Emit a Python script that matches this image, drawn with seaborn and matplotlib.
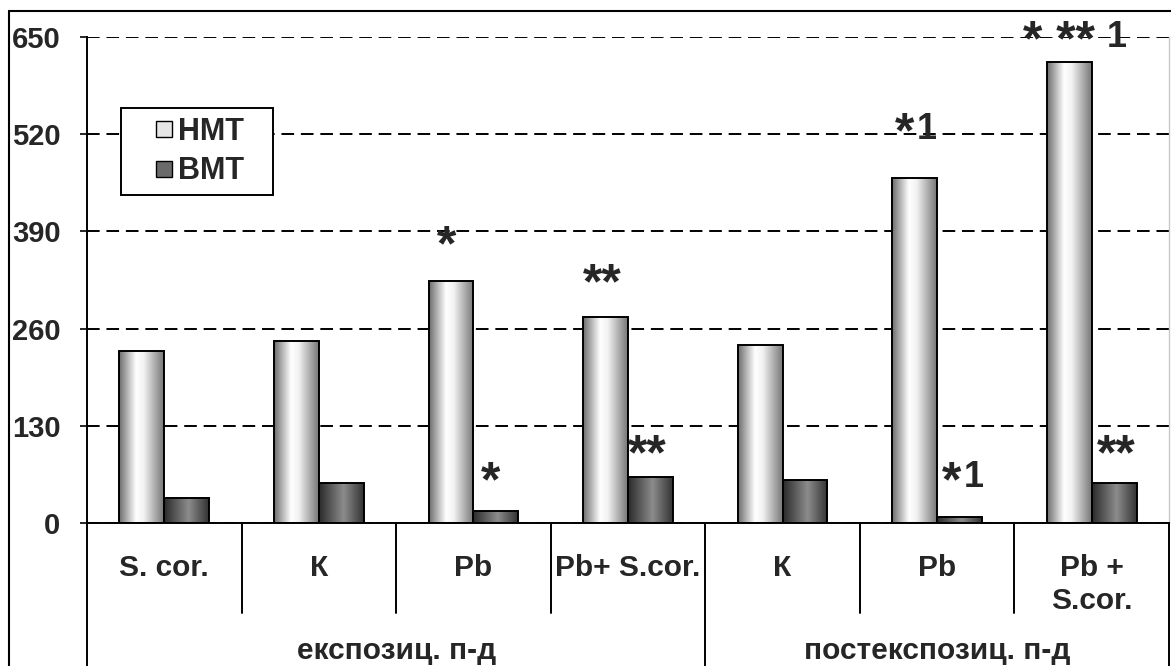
import numpy as np
import pandas as pd
import matplotlib
matplotlib.use("Agg")
import matplotlib.pyplot as plt
import seaborn as sns
from matplotlib.colors import LinearSegmentedColormap
from matplotlib.lines import Line2D

# --- data ---
cat_keys = ["e_scor", "e_k", "e_pb", "e_pbs", "p_k", "p_pb", "p_pbs"]
tick_labels = ["S. cor.", "К", "Pb", "Pb+ S.cor.", "К", "Pb", "Pb +\nS.cor."]
periods = ["експозиц. п-д", "постекспозиц. п-д"]
period_first = [0, 4]
period_last = [3, 6]
series = ["НМТ", "ВМТ"]
nmt = [230, 243, 323, 275, 238, 462, 617]
vmt = [34, 54, 16, 61, 57, 8, 53]
marks_nmt = ["", "", "*", "**", "", "*1", "* ** 1"]
marks_vmt = ["", "", "*", "**", "", "*1", "**"]
yticks = [0, 130, 260, 390, 520, 650]

sns.set_style("white")
plt.rcParams["font.family"] = ["Liberation Sans", "DejaVu Sans"]
plt.rcParams["font.weight"] = "bold"

W, H = 1171, 666
fig = plt.figure(figsize=(W / 100, H / 100), dpi=100)
ax = fig.add_axes([87 / W, (H - 523) / H, (1169 - 87) / W, 486 / H])

df = pd.DataFrame({
    "cat": cat_keys * 2,
    "series": [series[0]] * len(cat_keys) + [series[1]] * len(cat_keys),
    "value": nmt + vmt,
})

sns.barplot(data=df, x="cat", y="value", hue="series", order=cat_keys,
            hue_order=series, palette=["#e6e6e6", "#6a6a6a"], width=0.58,
            errorbar=None, edgecolor="black", linewidth=1.4, legend=False,
            ax=ax, zorder=3)

# cylinder-like shading inside every bar
cmaps = [
    LinearSegmentedColormap.from_list("nmt", [(0, "#6c6c6c"), (0.38, "#ffffff"),
                                              (0.55, "#f2f2f2"), (1, "#767676")]),
    LinearSegmentedColormap.from_list("vmt", [(0, "#2a2a2a"), (0.55, "#8c8c8c"),
                                              (1, "#323232")]),
]
grad = np.linspace(0, 1, 256).reshape(1, -1)
n = len(cat_keys)
for i, p in enumerate(ax.patches[:2 * n]):
    x0, y0 = p.get_x(), p.get_y()
    w, h = p.get_width(), p.get_height()
    p.set_facecolor("none")
    im = ax.imshow(grad, cmap=cmaps[i // n], extent=[x0, x0 + w, y0, y0 + h],
                   aspect="auto", interpolation="bilinear", zorder=2.5)
    im.set_clip_path(p)

ax.set_xlim(-0.5, n - 0.5)
ax.set_ylim(0, 650)
ax.set_yticks(yticks)
ax.set_xticks(range(n))
ax.set_xticklabels(tick_labels, fontsize=21.5, fontweight="bold", linespacing=1.25)
ax.set_xlabel("")
ax.set_ylabel("")
ax.tick_params(axis="x", length=0, pad=22)
ax.tick_params(axis="y", direction="out", length=5, width=1.4, pad=14,
               labelsize=21, left=True)
for lab in ax.get_yticklabels():
    lab.set_fontweight("bold")

ax.yaxis.grid(True, color="black", linestyle=(0, (6.5, 3.5)), linewidth=1.4)
ax.set_axisbelow(True)
ax.spines["top"].set_visible(False)
ax.spines["right"].set_color("#c8c8c8")
ax.spines["right"].set_linewidth(1.0)
for s in ["left", "bottom"]:
    ax.spines[s].set_color("black")
    ax.spines[s].set_linewidth(1.4)

# significance marks: big asterisks, digits, tops aligned
star_size, digit_size = 36, 26
mark_top_nmt = [0, 0, 399, 349, 0, 550, 673]
mark_top_vmt = [0, 0, 84, 120, 0, 84, 120]
mark_dx_nmt = [0, 0, -4, -3, 0, 2, 28]   # px from bar centre
mark_dx_vmt = [0, 0, -5, -3, 0, 4, 2]
off = 0.29 / 2


def draw_mark(xc, ytop, text, dx_px):
    k = text.rfind("*")
    stars, rest = text[:k + 1], text[k + 1:]
    dx = dx_px * 0.72
    kw = dict(xycoords="data", textcoords="offset points", va="top",
              fontweight="bold", annotation_clip=False)
    if rest:
        ax.annotate(stars, (xc, ytop), xytext=(dx - 1.5, 0), ha="right",
                    fontsize=star_size, **kw)
        ax.annotate(rest, (xc, ytop), xytext=(dx, 0), ha="left",
                    fontsize=digit_size, **kw)
    else:
        ax.annotate(stars, (xc, ytop), xytext=(dx, 0), ha="center",
                    fontsize=star_size, **kw)


for i in range(n):
    if marks_nmt[i]:
        draw_mark(i - off, mark_top_nmt[i], marks_nmt[i], mark_dx_nmt[i])
    if marks_vmt[i]:
        draw_mark(i + off, mark_top_vmt[i], marks_vmt[i], mark_dx_vmt[i])

# two-level category table under the axis
tr = ax.get_xaxis_transform()
short_y = -(613 - 523) / 486
long_y = -0.4
for b in np.arange(-0.5, n, 1.0):
    is_long = b in (-0.5, n - 0.5) or any(b == period_last[k] + 0.5 for k in range(len(periods)))
    ax.plot([b, b], [0, long_y if is_long else short_y], color="black",
            lw=1.4, transform=tr, clip_on=False, zorder=4)
for k, name in enumerate(periods):
    cx = (period_first[k] + period_last[k]) / 2
    ax.text(cx, -(659 - 523) / 486, name, transform=tr, ha="center",
            va="baseline", fontsize=21.5, fontweight="bold")

# legend
handles = [
    Line2D([], [], marker="s", linestyle="none", markersize=12,
           markerfacecolor="#e6e6e6", markeredgecolor="black", markeredgewidth=1),
    Line2D([], [], marker="s", linestyle="none", markersize=12,
           markerfacecolor="#6a6a6a", markeredgecolor="black", markeredgewidth=1),
]
leg = ax.legend(handles, series, loc="upper left", mode="expand",
                bbox_to_anchor=(34 / 1082, (523 - 197) / 486, 152 / 1082, 89 / 486),
                borderaxespad=0,
                prop={"family": ["Liberation Sans", "DejaVu Sans"], "weight": "bold", "size": 22},
                frameon=True, fancybox=False, framealpha=1, borderpad=0.3,
                labelspacing=0.3, handlelength=2.2, handletextpad=-0.62)
leg.get_frame().set_edgecolor("black")
leg.get_frame().set_linewidth(1.4)
leg.set_zorder(5)

# outer frame of the whole picture
fig.add_artist(Line2D([9 / W, 9 / W], [0, 1 - 11 / H], color="black", lw=1.5))
fig.add_artist(Line2D([9 / W, 1], [1 - 11 / H, 1 - 11 / H], color="black", lw=1.5))

fig.savefig("out.png", dpi=100)
